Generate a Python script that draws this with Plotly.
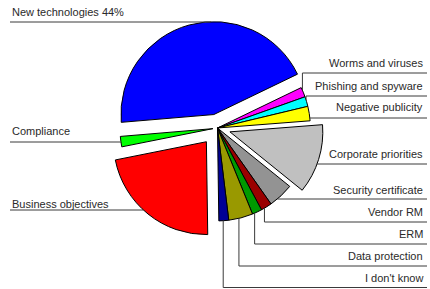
import math
import plotly.graph_objects as go

# ---- data ----
labels = ["New technologies", "Worms and viruses", "Phishing and spyware", "Negative publicity",
          "Corporate priorities", "Security certificate", "Vendor RM", "ERM", "Data protection",
          "I don't know", "Business objectives", "Compliance"]
values = [44, 1.7, 1.7, 2.5, 12, 4.4, 1.9, 1.7, 4.2, 1.7, 22, 1.8]
label_texts = ["New technologies 44%", "Worms and viruses", "Phishing and spyware", "Negative publicity",
               "Corporate priorities", "Security certificate", "Vendor RM", "ERM", "Data protection",
               "I don't know", "Business objectives", "Compliance"]

# ---- styling ----
colors = ["#0000FF", "#FF00FF", "#00FFFF", "#FFFF00", "#C0C0C0", "#939393", "#9A0000",
          "#009A00", "#999900", "#000096", "#FF0000", "#00FF00"]
pulls = [0.15, 0, 0, 0, 0.14, 0, 0, 0, 0, 0, 0.19, 0.05]
W, H = 430, 289
rotation = -94.8
dom_x = [0.2487, 0.7629]
dom_y = [0.1659, 0.9483]

fig = go.Figure(go.Pie(
    labels=labels, values=values, sort=False, direction="clockwise", rotation=rotation,
    pull=pulls, marker=dict(colors=colors, line=dict(color="#000000", width=1)),
    textinfo="none", hoverinfo="none", showlegend=False,
    domain=dict(x=dom_x, y=dom_y),
))

# replicate plotly's pie geometry to attach leader lines
box_w = W * (dom_x[1] - dom_x[0])
box_h = H * (dom_y[1] - dom_y[0])
R = min(box_w, box_h) / 2 / (1 + max(pulls))
CX = W * (dom_x[0] + dom_x[1]) / 2
CY = H * (1 - dom_y[0]) - box_h / 2
total = sum(values)
starts, spans = [], []
a = rotation
for v in values:
    s = v / total * 360
    starts.append(a)
    spans.append(s)
    a += s


def slice_center(i):
    mid = math.radians(starts[i] + spans[i] / 2)
    d = pulls[i] * R
    return CX + d * math.sin(mid), CY - d * math.cos(mid)


def arc_point(i, f):
    cx, cy = slice_center(i)
    ang = math.radians(starts[i] + f * spans[i])
    return cx + R * math.sin(ang), cy - R * math.cos(ang)


def arc_x_at_y(i, y, side):
    cx, cy = slice_center(i)
    dx = math.sqrt(max(R * R - (y - cy) ** 2, 0))
    return cx + dx if side == "right" else cx - dx


# label layout: (slice index, side, text y, line y, mode, fraction)
label_layout = [
    (0, "left", 12, 22, "v", 0.584),
    (11, "left", 131, 142, "h", None),
    (10, "left", 204, 210, "h", None),
    (1, "right", 63, 73, "v", 0.3),
    (2, "right", 86, 96, "v", 0.32),
    (3, "right", 107, 118, "h", None),
    (4, "right", 154, 164, "h", None),
    (5, "right", 190, 199, "h", None),
    (6, "right", 212, 222, "v", 0.7),
    (7, "right", 234, 244, "v", 0.77),
    (8, "right", 256, 266, "v", 0.58),
    (9, "right", 278, 287.5, "v", 0.56),
]
LEFT_X, RIGHT_X = 10, 427


def px(x):
    return x / W


def py(y):
    return 1 - y / H


shapes, annotations = [], []
line_style = dict(color="#3a3a3a", width=1)
for idx, side, ty, ly, mode, f in label_layout:
    x_edge = LEFT_X if side == "left" else RIGHT_X
    if mode == "h":
        ax = arc_x_at_y(idx, ly, side)
        path = f"M {px(x_edge)} {py(ly)} L {px(ax)} {py(ly)}"
    else:
        ax, ay = arc_point(idx, f)
        path = f"M {px(x_edge)} {py(ly)} L {px(ax)} {py(ly)} L {px(ax)} {py(ay)}"
    shapes.append(dict(type="path", xref="paper", yref="paper", path=path, line=line_style))
    annotations.append(dict(
        text=label_texts[idx], xref="paper", yref="paper",
        x=px(LEFT_X) if side == "left" else px(425), y=py(ty),
        xanchor="left" if side == "left" else "right", yanchor="middle",
        showarrow=False, font=dict(family="Liberation Sans, Arial, sans-serif", size=11, color="#2a2a2a"),
    ))

fig.update_layout(
    width=W, height=H, margin=dict(l=0, r=0, t=0, b=0),
    paper_bgcolor="white", plot_bgcolor="white",
    shapes=shapes, annotations=annotations,
)
fig.write_html("out.html", config={"displayModeBar": False},
               post_script="document.body.style.margin='0px';document.body.style.overflow='hidden';")
